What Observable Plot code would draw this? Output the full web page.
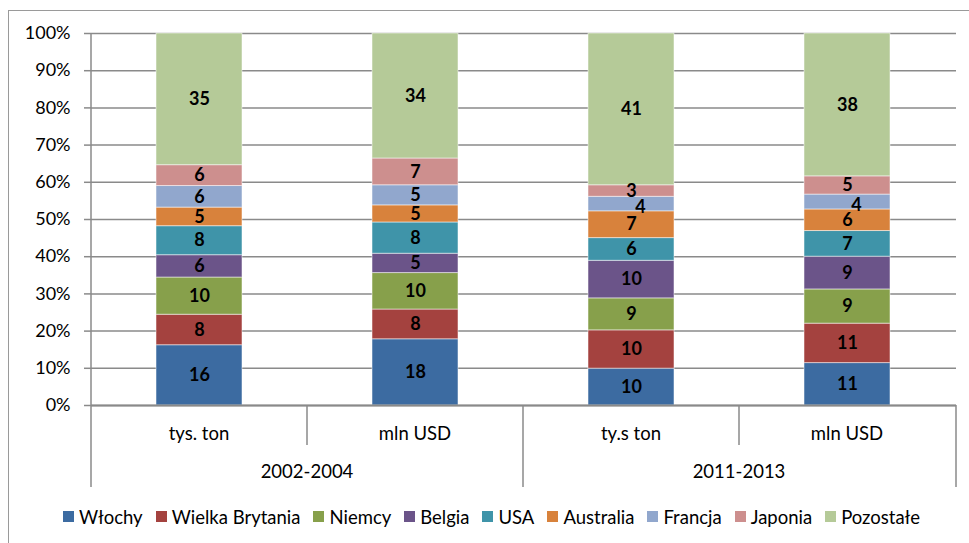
<!DOCTYPE html>
<html><head><meta charset="utf-8">
<script src="https://cdn.jsdelivr.net/npm/d3@7"></script>
<script src="https://cdn.jsdelivr.net/npm/@observablehq/plot@0.6"></script>
<style>
body{margin:0;background:#fff;font-family:Lato,"Open Sans",sans-serif;}
#chart{position:absolute;left:0;top:0;}
#legend{position:absolute;left:0;top:500px;width:996px;display:flex;justify-content:center;}
#legend div, #legend span{font-family:Lato,sans-serif !important;font-size:18.5px !important;color:#000 !important;}
#legend > div{justify-content:center;margin:0 !important;}
#legend svg{margin-right:5px !important;}
#legend span{margin-right:13px !important;}
#frame{position:absolute;left:8px;top:10px;width:1000px;height:600px;border:1.5px solid #9a9a9a;pointer-events:none;}
</style></head><body>
<div id="chart"></div><div id="legend"></div><div id="frame"></div>
<script>
// Categories (two-level x axis)
const periods = ["2002-2004", "2002-2004", "2011-2013", "2011-2013"];
const units = ["tys. ton", "mln USD", "ty.s ton", "mln USD"];
const countries = ["Włochy", "Wielka Brytania", "Niemcy", "Belgia", "USA", "Australia", "Francja", "Japonia", "Pozostałe"];
const colors = ["#3c6ba1", "#a4423f", "#87a04b", "#6b5489", "#3f94a9", "#d8823c", "#91a7cd", "#cd8f8e", "#b5ca98"];
// Shares in % (one array per country, one value per column)
const wlochy    = [16.2, 17.8,  9.9, 11.4];
const wBrytania = [ 8.2,  8.0, 10.3, 10.6];
const niemcy    = [10.0,  9.8,  8.6,  9.2];
const belgia    = [ 6.0,  5.2, 10.1,  8.8];
const usa       = [ 7.8,  8.4,  6.1,  6.9];
const australia = [ 5.0,  4.6,  7.2,  5.8];
const francja   = [ 5.8,  5.4,  3.9,  4.0];
const japonia   = [ 5.6,  7.2,  3.1,  4.9];
const pozostale = [35.4, 33.6, 40.8, 38.4];
const yTicks = [0, 10, 20, 30, 40, 50, 60, 70, 80, 90, 100];
// labels drawn beside the segment (as in the source) : [column, country]
const shiftedLabels = [[2, "Francja"], [3, "Francja"]];

const series = [wlochy, wBrytania, niemcy, belgia, usa, australia, francja, japonia, pozostale];
const keys = periods.map((p, i) => p + "|" + units[i]);
const data = [];
keys.forEach((k, i) => countries.forEach((c, j) => {
  const shifted = shiftedLabels.some(([ci, cc]) => ci === i && cc === c);
  data.push({key: k, country: c, value: series[j][i], label: String(Math.round(series[j][i])), shifted});
}));

const FONT = "Lato, 'Open Sans', sans-serif";
const GRAY = "#8a8a8a";

function categoryAxis(index, scales, values, dims) {
  const x = scales.x;
  const bw = x.bandwidth();
  const step = x.step();
  const pad = (step - bw) / 2;
  const y0 = dims.height - dims.marginBottom;
  const g = d3.create("svg:g").attr("font-family", FONT).attr("font-size", 18.5).attr("fill", "#000");
  const lines = g.append("g").attr("stroke", GRAY).attr("stroke-width", 1.5);
  lines.append("line").attr("x1", dims.marginLeft).attr("x2", dims.marginLeft)
    .attr("y1", dims.marginTop).attr("y2", y0);
  keys.forEach((k, i) => {
    const left = x(k) - pad;
    const groupStart = i === 0 || periods[i] !== periods[i - 1];
    lines.append("line").attr("x1", left).attr("x2", left).attr("y1", y0).attr("y2", y0 + (groupStart ? 82 : 40));
    g.append("text").attr("x", x(k) + bw / 2).attr("y", y0 + 29).attr("dy", "0.35em")
      .attr("text-anchor", "middle").text(units[i]);
  });
  const right = dims.width - dims.marginRight;
  lines.append("line").attr("x1", right).attr("x2", right).attr("y1", y0).attr("y2", y0 + 82);
  const groups = d3.groups(keys.map((k, i) => ({k, p: periods[i]})), d => d.p);
  for (const [p, items] of groups) {
    const a = x(items[0].k) - pad;
    const b = x(items[items.length - 1].k) + bw + pad;
    g.append("text").attr("x", (a + b) / 2).attr("y", y0 + 67).attr("dy", "0.35em")
      .attr("text-anchor", "middle").text(p);
  }
  return g.node();
}

const chart = Plot.plot({
  width: 969,
  height: 497,
  marginLeft: 91,
  marginRight: 13,
  marginTop: 33,
  marginBottom: 92,
  style: {fontFamily: FONT, fontSize: "17px", color: "#000", background: "transparent", overflow: "visible"},
  x: {domain: keys, paddingInner: 0.6, paddingOuter: 0.3, axis: null},
  y: {domain: [0, 100], axis: null, label: null},
  color: {domain: countries, range: colors},
  marks: [
    Plot.gridY(yTicks, {stroke: GRAY, strokeOpacity: 1, strokeWidth: 1.5}),
    Plot.axisY(yTicks, {label: null, tickFormat: d => d + "%", tickSize: 7, tickPadding: 14, stroke: GRAY, strokeWidth: 1.5, fill: "#000", fontSize: 18}),
    Plot.barY(data, Plot.stackY({x: "key", y: "value", fill: "country", stroke: "#fff", strokeOpacity: 0.5, strokeWidth: 1})),
    Plot.ruleY([0], {stroke: GRAY, strokeWidth: 2}),
    Plot.text(data, Plot.stackY({x: "key", y: "value", z: "country", text: d => d.shifted ? null : d.label, fontWeight: "bold", fontSize: 18, fill: "#000"})),
    Plot.text(data, Plot.stackY({x: "key", y: "value", z: "country", text: d => d.shifted ? d.label : null, fontWeight: "bold", fontSize: 18, fill: "#000", dx: 9, dy: 3})),
    categoryAxis
  ]
});
document.getElementById("chart").append(chart);
document.getElementById("legend").append(chart.legend("color", {swatchSize: 11}));
</script>
</body></html>
